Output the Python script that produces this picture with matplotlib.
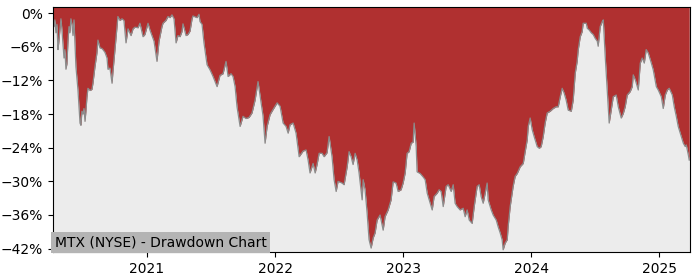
import numpy as np
import matplotlib
matplotlib.use('Agg')
import matplotlib.pyplot as plt
from matplotlib.ticker import FuncFormatter

#%% data (decimal year, drawdown in %)
ticker_label = 'MTX (NYSE) - Drawdown Chart'

years = [
    2020.266, 2020.273, 2020.281, 2020.289, 2020.297, 2020.305, 2020.312, 2020.328,
    2020.336, 2020.344, 2020.352, 2020.359, 2020.367, 2020.375, 2020.383, 2020.391,
    2020.398, 2020.406, 2020.414, 2020.422, 2020.430, 2020.445, 2020.461, 2020.477,
    2020.484, 2020.492, 2020.500, 2020.508, 2020.516, 2020.523, 2020.531, 2020.539,
    2020.555, 2020.570, 2020.578, 2020.594, 2020.609, 2020.617, 2020.633, 2020.648,
    2020.656, 2020.672, 2020.688, 2020.695, 2020.711, 2020.727, 2020.734, 2020.750,
    2020.766, 2020.773, 2020.789, 2020.805, 2020.820, 2020.836, 2020.852, 2020.875,
    2020.891, 2020.906, 2020.930, 2020.945, 2020.969, 2020.984, 2021.008, 2021.023,
    2021.039, 2021.055, 2021.078, 2021.094, 2021.117, 2021.125, 2021.148, 2021.164,
    2021.180, 2021.195, 2021.211, 2021.227, 2021.242, 2021.258, 2021.273, 2021.281,
    2021.305, 2021.320, 2021.336, 2021.352, 2021.359, 2021.391, 2021.406, 2021.414,
    2021.430, 2021.445, 2021.469, 2021.492, 2021.516, 2021.547, 2021.570, 2021.594,
    2021.617, 2021.633, 2021.656, 2021.672, 2021.688, 2021.703, 2021.727, 2021.750,
    2021.773, 2021.797, 2021.820, 2021.844, 2021.867, 2021.891, 2021.906, 2021.922,
    2021.938, 2021.961, 2021.984, 2022.016, 2022.039, 2022.063, 2022.086, 2022.102,
    2022.117, 2022.141, 2022.164, 2022.188, 2022.219, 2022.242, 2022.258, 2022.273,
    2022.297, 2022.313, 2022.328, 2022.344, 2022.367, 2022.383, 2022.406, 2022.422,
    2022.445, 2022.461, 2022.477, 2022.492, 2022.523, 2022.539, 2022.563, 2022.578,
    2022.594, 2022.609, 2022.625, 2022.641, 2022.656, 2022.680, 2022.688, 2022.703,
    2022.719, 2022.734, 2022.750, 2022.766, 2022.781, 2022.797, 2022.820, 2022.844,
    2022.859, 2022.883, 2022.906, 2022.922, 2022.945, 2022.961, 2022.984, 2023.000,
    2023.016, 2023.031, 2023.047, 2023.063, 2023.078, 2023.086, 2023.102, 2023.109,
    2023.133, 2023.156, 2023.172, 2023.188, 2023.211, 2023.227, 2023.242, 2023.266,
    2023.281, 2023.297, 2023.313, 2023.336, 2023.352, 2023.375, 2023.391, 2023.406,
    2023.422, 2023.445, 2023.469, 2023.484, 2023.500, 2023.516, 2023.539, 2023.555,
    2023.578, 2023.594, 2023.609, 2023.625, 2023.641, 2023.656, 2023.664, 2023.688,
    2023.703, 2023.727, 2023.742, 2023.758, 2023.773, 2023.781, 2023.797, 2023.813,
    2023.820, 2023.836, 2023.859, 2023.875, 2023.891, 2023.914, 2023.938, 2023.953,
    2023.969, 2023.977, 2023.992, 2024.008, 2024.023, 2024.047, 2024.063, 2024.078,
    2024.094, 2024.109, 2024.125, 2024.148, 2024.172, 2024.195, 2024.211, 2024.227,
    2024.242, 2024.258, 2024.273, 2024.289, 2024.313, 2024.328, 2024.344, 2024.359,
    2024.367, 2024.383, 2024.398, 2024.406, 2024.430, 2024.438, 2024.453, 2024.469,
    2024.484, 2024.500, 2024.516, 2024.523, 2024.539, 2024.555, 2024.563, 2024.578,
    2024.594, 2024.609, 2024.625, 2024.641, 2024.664, 2024.680, 2024.703, 2024.719,
    2024.734, 2024.750, 2024.773, 2024.789, 2024.797, 2024.813, 2024.828, 2024.836,
    2024.852, 2024.867, 2024.883, 2024.898, 2024.914, 2024.938, 2024.953, 2024.977,
    2024.992, 2025.016, 2025.031, 2025.047, 2025.063, 2025.078, 2025.102, 2025.117,
    2025.133, 2025.148, 2025.172, 2025.188, 2025.203, 2025.211, 2025.227, 2025.234,
]

drawdown = [
    -2.0, -2.4, -1.2, -3.5, -2.0, -6.5, -5.0, -1.0,
    -3.0, -5.5, -8.0, -6.5, -10.0, -9.0, -5.0, -2.4,
    -3.5, -1.0, -2.0, -4.0, -1.2, -9.5, -13.7, -19.6,
    -20.0, -17.5, -18.0, -17.0, -19.3, -17.5, -15.0, -13.4,
    -13.8, -13.6, -12.5, -9.5, -7.1, -4.8, -6.2, -6.3,
    -6.5, -7.0, -8.0, -10.0, -9.8, -12.5, -10.5, -6.5,
    -2.4, -0.6, -1.3, -1.0, -1.3, -5.3, -2.8, -4.0,
    -2.8, -2.5, -2.6, -1.8, -4.2, -3.8, -1.8, -3.0,
    -4.0, -5.0, -8.6, -5.0, -2.4, -1.8, -1.3, -0.6,
    -0.8, -0.3, -1.0, -5.3, -4.0, -4.2, -3.3, -1.9,
    -4.0, -3.8, -3.2, -1.0, -0.5, -0.8, -0.2, -1.5,
    -2.0, -5.3, -9.2, -10.1, -11.3, -13.1, -11.1, -10.8,
    -8.6, -11.3, -10.8, -11.3, -13.1, -16.7, -20.2, -18.4,
    -18.8, -18.6, -17.8, -15.5, -12.2, -16.0, -18.3, -23.2,
    -20.2, -18.1, -17.2, -16.0, -16.6, -19.6, -20.2, -21.4,
    -19.9, -19.6, -21.4, -25.6, -24.6, -24.4, -26.2, -28.5,
    -26.8, -28.5, -27.0, -25.0, -25.0, -25.6, -24.9, -22.0,
    -25.6, -29.7, -31.8, -30.0, -30.3, -30.6, -27.4, -24.7,
    -25.6, -27.0, -25.0, -26.2, -28.5, -33.3, -29.7, -31.5,
    -35.7, -40.4, -41.9, -40.1, -39.2, -36.9, -36.0, -38.7,
    -36.3, -35.1, -33.3, -30.1, -30.3, -31.8, -31.5, -30.3,
    -28.5, -25.0, -24.7, -23.2, -23.0, -19.6, -23.8, -28.3,
    -28.6, -29.2, -29.7, -32.1, -33.9, -35.1, -32.7, -32.1,
    -31.5, -31.8, -34.5, -30.9, -30.6, -31.8, -30.6, -33.9,
    -34.5, -35.1, -34.8, -36.3, -35.1, -36.9, -37.5, -34.5,
    -30.9, -30.6, -32.7, -33.9, -32.1, -30.3, -33.3, -35.1,
    -36.0, -36.9, -38.1, -39.2, -40.4, -42.2, -41.0, -40.4,
    -38.1, -34.5, -30.9, -29.1, -28.6, -27.4, -26.8, -24.7,
    -22.6, -20.2, -18.7, -20.8, -22.0, -23.8, -24.1, -23.8,
    -22.0, -19.6, -17.8, -17.5, -17.0, -16.7, -16.7, -14.9,
    -13.4, -14.3, -15.5, -17.3, -17.5, -15.5, -10.7, -8.6,
    -6.6, -4.2, -3.3, -1.8, -1.8, -2.7, -3.0, -3.5,
    -3.8, -4.5, -5.0, -5.9, -2.4, -1.5, -1.2, -7.7,
    -13.7, -19.6, -17.3, -14.9, -14.6, -16.7, -18.7, -17.9,
    -16.7, -14.6, -14.0, -13.1, -11.0, -11.9, -13.1, -13.7,
    -8.9, -8.0, -8.9, -6.5, -7.1, -8.9, -10.1, -13.1,
    -13.7, -14.9, -17.0, -14.6, -13.7, -13.4, -14.6, -16.7,
    -18.4, -20.2, -22.0, -23.2, -23.8, -23.5, -25.3, -26.2,
]

year_ticks = [2021, 2022, 2023, 2024, 2025]
pct_ticks = [0, -6, -12, -18, -24, -30, -36, -42]

#%% plot
t = np.array(years)
dd = np.array(drawdown)
y_top = 1.1

fig = plt.figure(figsize=(7, 2.8), dpi=100)
ax = fig.add_axes([0.0757, 0.1, 0.91, 0.875])
ax.set_facecolor('#ececec')

# red covers everything above the drawdown curve, up to the frame
ax.fill_between(t, dd, y_top, color='#b03030', linewidth=0)
ax.plot(t, dd, color='#8c8c8c', linewidth=0.9)

ax.set_xlim(t[0], t[-1] + 0.006)
ax.set_ylim(-42.6, y_top)
ax.set_xticks(year_ticks)
ax.set_xticklabels([str(y) for y in year_ticks])
ax.set_yticks(pct_ticks)
ax.yaxis.set_major_formatter(FuncFormatter(
    lambda v, p: ('\u2212' if v < 0 else '') + '%d%%' % abs(round(v))))
ax.tick_params(labelsize=10)

ax.text(0.003, 0.012, ticker_label, transform=ax.transAxes, fontsize=10,
        ha='left', va='bottom', zorder=5,
        bbox=dict(facecolor='#b4b4b4', edgecolor='none', pad=2.5))

fig.savefig('out.png', dpi=100)
